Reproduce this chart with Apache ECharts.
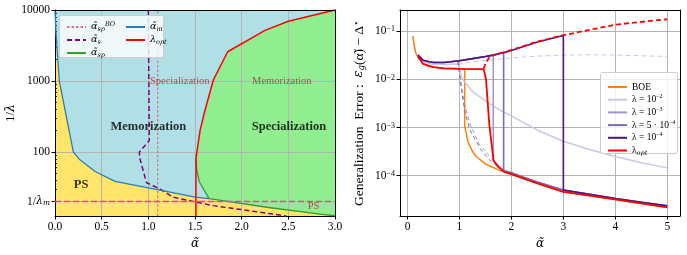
<!DOCTYPE html>
<html><head><meta charset="utf-8">
<script src="https://cdn.jsdelivr.net/npm/echarts@6/dist/echarts.min.js"></script>
<style>html,body{margin:0;padding:0;background:#fff}#c{width:687px;height:255px}</style>
</head><body><div id="c"></div>
<script>
// ---------------- LEFT PANEL DATA (phase diagram) ----------------
const leftXTicks = [0, 0.5, 1.0, 1.5, 2.0, 2.5, 3.0];
const leftYLabels = [20, 100, 1000, 10000];
const leftYMinor = [30,40,50,60,70,80,90,200,300,400,500,600,700,800,900,2000,3000,4000,5000,6000,7000,8000,9000];
const invLambdaMin = 12.5, invLambdaMax = 10000;
const invLambdaM = 20;
// alpha_m (blue)
const alphaM_x = [0, 0.01, 0.025, 0.046, 0.196, 0.26, 0.43, 0.643, 1.125, 1.5, 1.65];
const alphaM_y = [10000, 5000, 2500, 1000, 100, 79, 53, 38.5, 29, 23, 22];
// alpha_sp (green)
const alphaSp_x = [1.51, 1.518, 1.546, 1.65, 2.27, 2.84, 3.0];
const alphaSp_y = [81, 56, 38, 22, 16.6, 13.3, 12.6];
// lambda_opt (red)
const lamOpt_x = [1.51, 1.51, 1.554, 1.596, 1.696, 1.85, 2.25, 2.5, 3.0];
const lamOpt_y = [12.5, 81, 200, 340, 1030, 2580, 5160, 6930, 10000];
// alpha_s (purple dashed)
const alphaS_x = [1.0, 1.01, 0.905, 0.905, 0.98, 1.125, 1.27, 1.696, 2.48];
const alphaS_y = [10000, 145, 100, 85, 37, 30, 22.9, 17.5, 12.5];
// alpha_sp^BO (dotted vertical)
const alphaSpBO_x = [1.1, 1.1];
const alphaSpBO_y = [12.5, 10000];
// region labels
const regionLabels = [
  {name:'Memorization', x:1.0, y:226, big:true},
  {name:'Specialization', x:2.507, y:226, big:true},
  {name:'PS', x:0.28, y:34, big:true},
  {name:'Specialization', x:1.336, y:1000, big:false},
  {name:'Memorization', x:2.43, y:1000, big:false},
  {name:'PS', x:2.77, y:16.9, big:false}
];

// ---------------- RIGHT PANEL DATA (generalization error) ----------------
const rightXTicks = [0,1,2,3,4,5];
const upper_x = [0.2,0.3,0.4,0.5,0.7,1.0,1.25,1.5,1.65,1.75,1.85,2.0,2.5,3.0,3.5,4.0,4.5,5.0];
const upper_y = [0.032,0.025,0.0235,0.0225,0.0225,0.0245,0.027,0.03,0.032,0.034,0.036,0.04,0.06,0.082,0.105,0.135,0.155,0.175];
const purpleLow_x = [2.0,2.25,2.5,2.75,3.0,3.5,4.0,4.5,5.0];
const purpleLow_y = [1.15e-4,9.2e-5,7.4e-5,6.1e-5,5.0e-5,4.1e-5,3.35e-5,2.8e-5,2.35e-5];
const boe_x = [0.1,0.13,0.16,0.2,0.3,0.4,0.5,0.7,1.0,1.1,1.1,1.16,1.25,1.32,1.5,1.75,2.0,2.5,3.0,3.5,4.0,4.5,5.0];
const boe_y = [0.08,0.05,0.035,0.029,0.021,0.019,0.018,0.017,0.0166,0.0162,0.0011,5.2e-4,3.2e-4,2.5e-4,1.75e-4,1.32e-4,1.08e-4,6.9e-5,4.6e-5,3.85e-5,3.2e-5,2.65e-5,2.2e-5];
const lam2_x = [0.2,0.3,0.5,0.7,0.97,1.0,1.05,1.1,1.25,1.5,1.75,2.0,2.5,3.0,3.5,4.0,4.5,5.0];
const lam2_y = [0.031,0.023,0.0205,0.0205,0.021,0.016,0.011,8.8e-3,5.6e-3,3.6e-3,2.4e-3,1.75e-3,8.8e-4,5.2e-4,3.5e-4,2.5e-4,1.85e-4,1.45e-4];
const lam2dash_x = [0.97,1.25,1.5,2.0,2.5,3.0,3.5,4.0,4.5,5.0];
const lam2dash_y = [0.021,0.023,0.025,0.028,0.0305,0.032,0.0325,0.032,0.031,0.03];
const lam3drop_x = [1.65,1.65,1.75,1.85];
const lam3drop_y = [0.032,2.06e-4,1.6e-4,1.3e-4];
const lam3dash_x = [0.97,1.0,1.05,1.1,1.2,1.38,1.5,1.65];
const lam3dash_y = [0.024,0.014,6e-3,3e-3,1.2e-3,4.5e-4,3.2e-4,2.06e-4];
const lam54drop_x = [1.85,1.85];
const lam54drop_y = [0.036,1.25e-4];
const lam54dash_x = [0.97,1.0,1.05,1.1,1.2,1.4,1.6,1.85];
const lam54dash_y = [0.024,0.013,5e-3,2.2e-3,9e-4,3.6e-4,2e-4,1.25e-4];
const lam4drop_x = [3.0,3.0];
const lam4drop_y = [0.082,5.0e-5];
const opt_x = [0.2,0.3,0.4,0.5,0.7,1.0,1.25,1.465,1.51,1.574,1.656,1.75,1.86,2.0,2.5,3.0,3.5,4.0,4.5,5.0];
const opt_y = [0.03,0.021,0.0193,0.018,0.017,0.0166,0.0164,0.0163,0.0103,1.15e-3,2.06e-4,1.5e-4,1.2e-4,1.08e-4,6.9e-5,4.6e-5,3.85e-5,3.2e-5,2.65e-5,2.2e-5];
const optDash_x = [1.465,1.497,1.56,1.637,1.75,1.85,2.0,2.5,3.0,3.5,4.0,4.5,5.0];
const optDash_y = [0.0166,0.021,0.0274,0.031,0.0345,0.0365,0.041,0.061,0.083,0.107,0.137,0.157,0.178];
const errMin = 1.45e-5, errMax = 0.277;

// ---------------- helpers ----------------
const zip = (xs, ys) => xs.map((x, i) => [x, ys[i]]);
function pick(xs, ys, cond) { const o = []; xs.forEach((x, i) => { if (cond(x)) o.push([x, ys[i]]); }); return o; }
const SERIF = 'Liberation Serif';
const MATH = 'DejaVu Serif';
const LX = 0, LY = 0, RX = 2, RY = 3;

function line(name, data, color, width, type, xi, yi, z) {
  return {type:'line', name, data, xAxisIndex:xi, yAxisIndex:yi, symbol:'none', showSymbol:false,
    silent:true, animation:false, clip:true, z: z || 4,
    itemStyle:{color}, lineStyle:{color, width, type: type || 'solid'}};
}
function polygon(pts, color) {
  return {type:'custom', xAxisIndex:LX, yAxisIndex:LY, z:1, silent:true, clip:true, animation:false,
    data: pts,
    renderItem: (params, api) => {
      if (params.dataIndex !== 0) return {type:'group', children:[]};
      return {type:'polygon', shape:{points: pts.map(p => api.coord(p))}, style:{fill: color}};
    }};
}

const yellowPts = [].concat(zip(alphaM_x, alphaM_y), pick(alphaSp_x, alphaSp_y, x => x > 1.7),
  [[3.0, invLambdaMin], [0, invLambdaMin]]);
const greenPts = [].concat(zip(lamOpt_x, lamOpt_y).slice(1), [[3.0, alphaSp_y[alphaSp_y.length-1]]],
  zip(alphaSp_x, alphaSp_y).reverse());

const rich = {
  m:{fontFamily:MATH, fontStyle:'italic', fontSize:9.5, color:'#000'},
  sub:{fontFamily:MATH, fontStyle:'italic', fontSize:6.5, verticalAlign:'bottom', color:'#000'},
  sup:{fontFamily:MATH, fontStyle:'italic', fontSize:6.5, verticalAlign:'top', color:'#000'},
  t:{fontFamily:SERIF, fontSize:9.5, color:'#000'},
  s:{fontFamily:SERIF, fontSize:6, verticalAlign:'top', color:'#000'}
};
const legLeftText = {
  'aBO':'{m|α̃}{sub|sp}{sup|BO}', 'aS':'{m|α̃}{sub|s}', 'aSp':'{m|α̃}{sub|sp}',
  'aM':'{m|α̃}{sub|m}', 'lOpt':'{m|λ}{sub|opt}'
};
const legRightText = {
  'BOE':'{t|BOE}', 'l2':'{t|λ = 10}{s|−2}', 'l3':'{t|λ = 10}{s|−3}',
  'l54':'{t|λ = 5 · 10}{s|−4}', 'l4':'{t|λ = 10}{s|−4}', 'opt':'{t|λ}{sub|opt}'
};

const cPurple = ['#c9c9e6', '#9d97cb', '#7a6db5', '#4b1488'];
const gridCol = '#b4b4b4';
const tickLabel = {fontFamily:SERIF, fontSize:11.5, color:'#000'};

const series = [
  polygon(yellowPts, '#ffe66b'),
  polygon(greenPts, '#90ee90'),
  line('aBO', zip(alphaSpBO_x, alphaSpBO_y), '#d9737d', 1.2, [2.5,2], LX, LY),
  line('aS', zip(alphaS_x, alphaS_y), '#800080', 1.5, [5,3], LX, LY),
  line('aSp', zip(alphaSp_x, alphaSp_y), '#2ca02c', 1.3, 'solid', LX, LY),
  line('aM', zip(alphaM_x, alphaM_y), '#2a7bbf', 1.3, 'solid', LX, LY),
  line('lOpt', zip(lamOpt_x, lamOpt_y), '#ff0000', 1.5, 'solid', LX, LY),
  line('lamM', [[0, invLambdaM], [3, invLambdaM]], '#e83ccc', 1.3, [6,3], LX, LY),
  {type:'scatter', xAxisIndex:LX, yAxisIndex:LY, symbolSize:0, silent:true, z:5, animation:false,
   data: regionLabels.map(r => ({value:[r.x, r.y], name:r.name,
     label:{show:true, position:'inside', formatter:'{b}', fontFamily:SERIF,
       fontWeight: r.big ? 'bold' : 'normal', fontSize: r.big ? 12.5 : 10.5,
       color: r.big ? '#000' : '#a82e2e'}}))},
  // right panel
  line('BOE', zip(boe_x, boe_y), '#ff7f0e', 1.5, 'solid', RX, RY),
  line('l2', zip(lam2_x, lam2_y), cPurple[0], 1.5, 'solid', RX, RY),
  line('l2d', zip(lam2dash_x, lam2dash_y), cPurple[0], 1, [5,3], RX, RY),
  line('l3d', zip(lam3dash_x, lam3dash_y), cPurple[1], 1, [4,3], RX, RY),
  line('l54d', zip(lam54dash_x, lam54dash_y), cPurple[2], 1, [4,3], RX, RY),
  line('l3', [].concat(pick(upper_x, upper_y, x => x < 1.66), zip(lam3drop_x, lam3drop_y), zip(purpleLow_x, purpleLow_y)), cPurple[1], 1.5, 'solid', RX, RY),
  line('l54', [].concat(pick(upper_x, upper_y, x => x < 1.86), zip(lam54drop_x, lam54drop_y), zip(purpleLow_x, purpleLow_y)), cPurple[2], 1.6, 'solid', RX, RY),
  line('l4', [].concat(pick(upper_x, upper_y, x => x < 3.01), zip(lam4drop_x, lam4drop_y), pick(purpleLow_x, purpleLow_y, x => x > 3.01)), cPurple[3], 1.6, 'solid', RX, RY),
  line('opt', zip(opt_x, opt_y), '#ff0000', 1.8, 'solid', RX, RY, 5),
  line('optd', zip(optDash_x, optDash_y), '#ff0000', 1.8, [5,3], RX, RY, 5)
];

const frameAxisX = (gi) => ({gridIndex:gi, type:'value', min:0, max:1, position:'top', z:6,
  axisLine:{show:true, onZero:false, lineStyle:{color:'#000', width:1}}, axisTick:{show:false}, axisLabel:{show:false}, splitLine:{show:false}});
const frameAxisY = (gi) => ({gridIndex:gi, type:'value', min:0, max:1, position:'right', z:6,
  axisLine:{show:true, onZero:false, lineStyle:{color:'#000', width:1}}, axisTick:{show:false}, axisLabel:{show:false}, splitLine:{show:false}});

const legendCommon = {orient:'vertical', itemWidth:19, itemHeight:8, itemStyle:{opacity:0}, z:10};

const option = {
  animation:false,
  grid:[
    {left:55, right:352, top:10, bottom:35, show:true, backgroundColor:'#b0e0e6', borderWidth:0, z:0},
    {left:400, right:7, top:10, bottom:35}
  ],
  xAxis:[
    {gridIndex:0, type:'value', min:0, max:3, interval:0.5, z:3,
     axisLine:{onZero:false, lineStyle:{color:'#000', width:1}},
     axisTick:{length:3.5, lineStyle:{color:'#000'}},
     axisLabel:Object.assign({margin:5, formatter: v => v.toFixed(1)}, tickLabel),
     splitLine:{show:true, lineStyle:{color:gridCol, width:1}},
     name:'{m|α̃}', nameLocation:'middle', nameGap:22, nameTextStyle:{rich:{m:{fontFamily:MATH, fontStyle:'italic', fontSize:12, color:'#000'}}}},
    frameAxisX(0),
    {gridIndex:1, type:'value', min:-0.145, max:5.245, z:3,
     axisLine:{onZero:false, lineStyle:{color:'#000', width:1}},
     axisTick:{length:3.5, lineStyle:{color:'#000'}, customValues: rightXTicks},
     axisLabel:Object.assign({margin:5, customValues: rightXTicks}, tickLabel),
     splitLine:{show:true, lineStyle:{color:gridCol, width:1}},
     name:'{m|α̃}', nameLocation:'middle', nameGap:22, nameTextStyle:{rich:{m:{fontFamily:MATH, fontStyle:'italic', fontSize:12, color:'#000'}}}},
    frameAxisX(1)
  ],
  yAxis:[
    {gridIndex:0, type:'log', logBase:10, min:invLambdaMin, max:invLambdaMax, z:3,
     axisLine:{show:true, onZero:false, lineStyle:{color:'#000', width:1}},
     axisTick:{show:true, length:3.5, lineStyle:{color:'#000'}, customValues: leftYLabels},
     axisLabel:Object.assign({margin:5, customValues: leftYLabels,
        formatter: v => (v < 50 ? '1/{m|λ}{sub|m}' : String(Math.round(v))),
        rich:{m:{fontFamily:MATH, fontStyle:'italic', fontSize:11, color:'#000'},
              sub:{fontFamily:MATH, fontStyle:'italic', fontSize:7.5, verticalAlign:'bottom', color:'#000'}}}, tickLabel),
     splitLine:{show:true, lineStyle:{color:gridCol, width:1}},
     name:'1/{m|λ}', nameLocation:'middle', nameGap:38, nameRotate:90,
     nameTextStyle:{fontFamily:SERIF, fontSize:12.5, color:'#000', rich:{m:{fontFamily:MATH, fontStyle:'italic', fontSize:12.5, color:'#000'}}}},
    frameAxisY(0),
    {gridIndex:0, type:'log', logBase:10, min:invLambdaMin, max:invLambdaMax, z:3,
     axisLine:{show:false}, axisLabel:{show:false}, splitLine:{show:false},
     axisTick:{show:true, length:2, lineStyle:{color:'#000', width:0.8}, customValues: leftYMinor}},
    {gridIndex:1, type:'log', logBase:10, min:errMin, max:errMax, z:3,
     axisLine:{show:true, onZero:false, lineStyle:{color:'#000', width:1}},
     axisTick:{show:true, length:3.5, lineStyle:{color:'#000'}},
     axisLabel:Object.assign({margin:5, showMinLabel:false, showMaxLabel:false,
        formatter: v => '10{sup|−' + Math.round(-Math.log10(v)) + '}',
        rich:{sup:{fontFamily:SERIF, fontSize:8, verticalAlign:'top', color:'#000'}}}, tickLabel),
     splitLine:{show:true, lineStyle:{color:gridCol, width:1}},
     name:'Generalization  Error :  {m|ε}{sub|g}(α̃) − Δ{sup|⋆}', nameLocation:'middle', nameGap:34, nameRotate:90,
     nameTextStyle:{fontFamily:SERIF, fontSize:13.5, color:'#000', rich:{
        m:{fontFamily:MATH, fontStyle:'italic', fontSize:13, color:'#000'},
        sub:{fontFamily:MATH, fontStyle:'italic', fontSize:8.5, verticalAlign:'bottom', color:'#000'},
        sup:{fontFamily:MATH, fontSize:9, verticalAlign:'top', color:'#000'}}}},
    frameAxisY(1)
  ],
  legend:[
    Object.assign({data:['aBO','aS','aSp'], left:61, top:16, itemGap:1,
     formatter: n => legLeftText[n], textStyle:{lineHeight:12, rich}}, legendCommon),
    Object.assign({data:['aM','lOpt'], left:120, top:16, itemGap:1,
     formatter: n => legLeftText[n], textStyle:{lineHeight:12, rich}}, legendCommon),
    Object.assign({data:['BOE','l2','l3','l54','l4','opt'], left:602, top:76, itemGap:0.7,
     formatter: n => legRightText[n], textStyle:{lineHeight:12, rich}}, legendCommon)
  ],
  graphic:[
    {type:'rect', left:59, top:15, shape:{width:104, height:42, r:2}, z:8,
     style:{fill:'rgba(255,255,255,0.8)', stroke:'#cccccc', lineWidth:1}},
    {type:'rect', left:600, top:72, shape:{width:77, height:81, r:2}, z:8,
     style:{fill:'rgba(255,255,255,0.8)', stroke:'#cccccc', lineWidth:1}}
  ],
  series
};
const chart = echarts.init(document.getElementById('c'), null, {renderer:'canvas'});
chart.setOption(option);
</script></body></html>
